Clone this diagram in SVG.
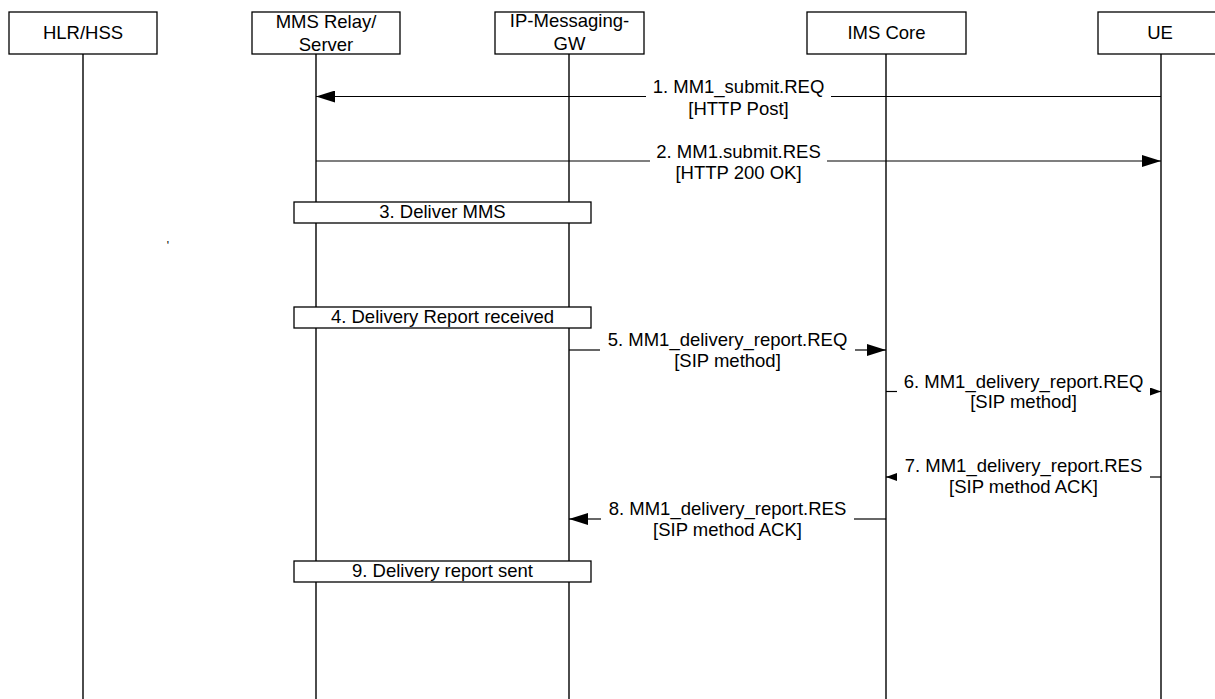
<svg xmlns="http://www.w3.org/2000/svg" width="1215" height="699" viewBox="0 0 1215 699">
  <style>
    .box { fill: #ffffff; stroke: #000000; stroke-width: 1.3; }
    .life { stroke: #000000; stroke-width: 1.4; fill: none; }
    .msg { stroke: #000000; stroke-width: 1.2; fill: none; }
    .big { marker-end: url(#ahBig); }
    .small { marker-end: url(#ahSmall); }
    text { font-family: "Liberation Sans", Arial, sans-serif; font-size: 18.5px; fill: #000000; text-anchor: middle; }
  </style>
  <defs>
    <marker id="ahBig" markerUnits="userSpaceOnUse" markerWidth="20" markerHeight="12" refX="19" refY="6" orient="auto">
      <path d="M0,0 L19,6 L0,12 Z" fill="#000000"/>
    </marker>
    <marker id="ahSmall" markerUnits="userSpaceOnUse" markerWidth="12" markerHeight="8" refX="11" refY="4" orient="auto">
      <path d="M0,0 L11,4 L0,8 Z" fill="#000000"/>
    </marker>
  </defs>
  <rect x="0" y="0" width="1215" height="699" fill="#ffffff"/>

  <g id="lifelines">
    <line class="life" x1="83" y1="54" x2="83" y2="699"/>
    <line class="life" x1="316" y1="54" x2="316" y2="699"/>
    <line class="life" x1="569" y1="54" x2="569" y2="699"/>
    <line class="life" x1="886" y1="54" x2="886" y2="699"/>
    <line class="life" x1="1161" y1="54" x2="1161" y2="699"/>
  </g>

  <g id="node-hlr">
    <rect class="box" x="9" y="12" width="148" height="42"/>
    <text x="83" y="38.5">HLR/HSS</text>
  </g>
  <g id="node-mms">
    <rect class="box" x="252" y="12" width="148" height="42"/>
    <text x="326" y="27.5">MMS Relay/</text>
    <text x="326" y="50.5">Server</text>
  </g>
  <g id="node-ipgw">
    <rect class="box" x="495" y="12" width="149" height="42"/>
    <text x="569.5" y="26.5">IP-Messaging-</text>
    <text x="569.5" y="50">GW</text>
  </g>
  <g id="node-ims">
    <rect class="box" x="807" y="12" width="159" height="42"/>
    <text x="886.5" y="38.5">IMS Core</text>
  </g>
  <g id="node-ue">
    <rect class="box" x="1098" y="12" width="130" height="42"/>
    <text x="1160" y="38.5">UE</text>
  </g>

  <g id="connectors">
    <path class="msg" d="M1161,96.5 L831,96.5"/>
    <path class="msg big" d="M646,96.5 L316,96.5"/>
    <path class="msg" d="M316,161 L650,161"/>
    <path class="msg big" d="M827,161 L1161,161"/>
    <path class="msg" d="M569,350 L600,350"/>
    <path class="msg big" d="M855,350 L886,350"/>
    <path class="msg" d="M886,391.5 L897,391.5"/>
    <path class="msg small" d="M1150,391.5 L1161,391.5"/>
    <path class="msg" d="M1161,477 L1150,477"/>
    <path class="msg small" d="M897,477 L886,477"/>
    <path class="msg" d="M886,519 L854,519"/>
    <path class="msg big" d="M601,519 L569,519"/>
  </g>

  <g id="labels">
    <text x="738.5" y="93">1. MM1_submit.REQ</text>
    <text x="738.5" y="114.5">[HTTP Post]</text>
    <text x="738.5" y="157.5">2. MM1.submit.RES</text>
    <text x="738.5" y="178.5">[HTTP 200 OK]</text>
    <text x="727.5" y="345.5">5. MM1_delivery_report.REQ</text>
    <text x="727.5" y="367">[SIP method]</text>
    <text x="1023.5" y="387.5">6. MM1_delivery_report.REQ</text>
    <text x="1023.5" y="408">[SIP method]</text>
    <text x="1023.5" y="472">7. MM1_delivery_report.RES</text>
    <text x="1023.5" y="493">[SIP method ACK]</text>
    <text x="727.5" y="514.5">8. MM1_delivery_report.RES</text>
    <text x="727.5" y="535.5">[SIP method ACK]</text>
  </g>

  <g id="step-3">
    <rect class="box" x="294" y="202" width="297" height="21"/>
    <text x="442.5" y="217.5">3. Deliver MMS</text>
  </g>
  <g id="step-4">
    <rect class="box" x="294" y="307" width="297" height="21"/>
    <text x="442.5" y="322.5">4. Delivery Report received</text>
  </g>
  <g id="step-9">
    <rect class="box" x="294" y="561" width="297" height="21"/>
    <text x="442.5" y="576.5">9. Delivery report sent</text>
  </g>

  <text x="168" y="249.5" style="font-size:12px">'</text>
</svg>
